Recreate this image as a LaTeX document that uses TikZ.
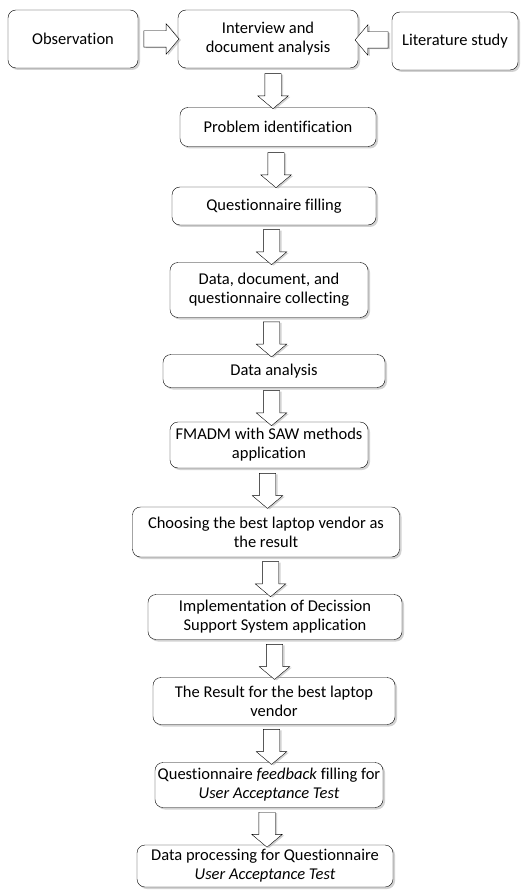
\documentclass[tikz,border=0pt]{standalone}
\usepackage{fontspec}
\setmainfont{Carlito}[Ligatures=NoCommon]
\usetikzlibrary{shapes.arrows,shadows}
\begin{document}
\begin{tikzpicture}[x=1pt,y=-1pt,inner sep=2pt,outer sep=0pt,
stepblock/.style={draw,rectangle,rounded corners=8pt,fill=white,align=center,
  font=\fontsize{16.5}{19}\selectfont,
  drop shadow={shadow xshift=2pt,shadow yshift=-2pt,fill=gray!70}},
blockarrow/.style={draw,single arrow,fill=white,inner sep=8pt,minimum width=0pt,
  single arrow head extend=7pt,single arrow tip angle=100,minimum height=35pt,
  drop shadow={shadow xshift=2pt,shadow yshift=-1pt,fill=gray!70}}]
\useasboundingbox (0,0) rectangle (521,890);
\draw (73,39) node[stepblock,minimum width=130pt,minimum height=58pt] (obs) {Observation};
\draw (268,39) node[stepblock,minimum width=180pt,minimum height=58pt] (intv) {Interview and\\document analysis};
\draw (455,41) node[stepblock,minimum width=126pt,minimum height=58pt] (lit) {Literature study};
\draw (278,127) node[stepblock,minimum width=196pt,minimum height=39pt] (prob) {Problem identification};
\draw (274,206) node[stepblock,minimum width=204pt,minimum height=38pt] (qfill) {Questionnaire filling};
\draw (269,290) node[stepblock,minimum width=198pt,minimum height=55pt] (dcol) {Data, document, and\\questionnaire collecting};
\draw (274,371) node[stepblock,minimum width=222pt,minimum height=33pt] (anal) {Data analysis};
\draw (269,445) node[stepblock,minimum width=198pt,minimum height=46pt] (fmadm) {FMADM with SAW methods\\application};
\draw (266,532) node[stepblock,minimum width=267pt,minimum height=50pt] (choose) {Choosing the best laptop vendor as\\the result};
\draw (275,617) node[stepblock,minimum width=254pt,minimum height=45pt] (impl) {Implementation of Decission\\Support System application};
\draw (274,701) node[stepblock,minimum width=242pt,minimum height=47pt] (res) {The Result for the best laptop\\vendor};
\draw (269,785) node[stepblock,minimum width=228pt,minimum height=45pt] (qfb) {Questionnaire \emph{feedback} filling for\\\emph{User Acceptance Test}};
\draw (265,866) node[stepblock,minimum width=256pt,minimum height=42pt] (proc) {Data processing for Questionnaire\\\emph{User Acceptance Test}};
% block arrows
\path (obs.east) -- node[blockarrow,shape border rotate=0] {} (intv.west);
\path (lit.west) -- node[blockarrow,shape border rotate=180,minimum height=33pt] {} (intv.east);
\path (intv.south) -- node[blockarrow,shape border rotate=270] {} (prob.north);
\path (prob.south) -- node[blockarrow,shape border rotate=270] {} (qfill.north);
\path (qfill.south) -- node[blockarrow,shape border rotate=270] {} (dcol.north);
\path (dcol.south) -- node[blockarrow,shape border rotate=270] {} (anal.north);
\path (anal.south) -- node[blockarrow,shape border rotate=270] {} (fmadm.north);
\path (fmadm.south) -- node[blockarrow,shape border rotate=270] {} (choose.north);
\path (choose.south) -- node[blockarrow,shape border rotate=270] {} (impl.north);
\path (impl.south) -- node[blockarrow,shape border rotate=270] {} (res.north);
\path (res.south) -- node[blockarrow,shape border rotate=270] {} (qfb.north);
\path (qfb.south) -- node[blockarrow,shape border rotate=270] {} (proc.north);
\end{tikzpicture}
\end{document}
